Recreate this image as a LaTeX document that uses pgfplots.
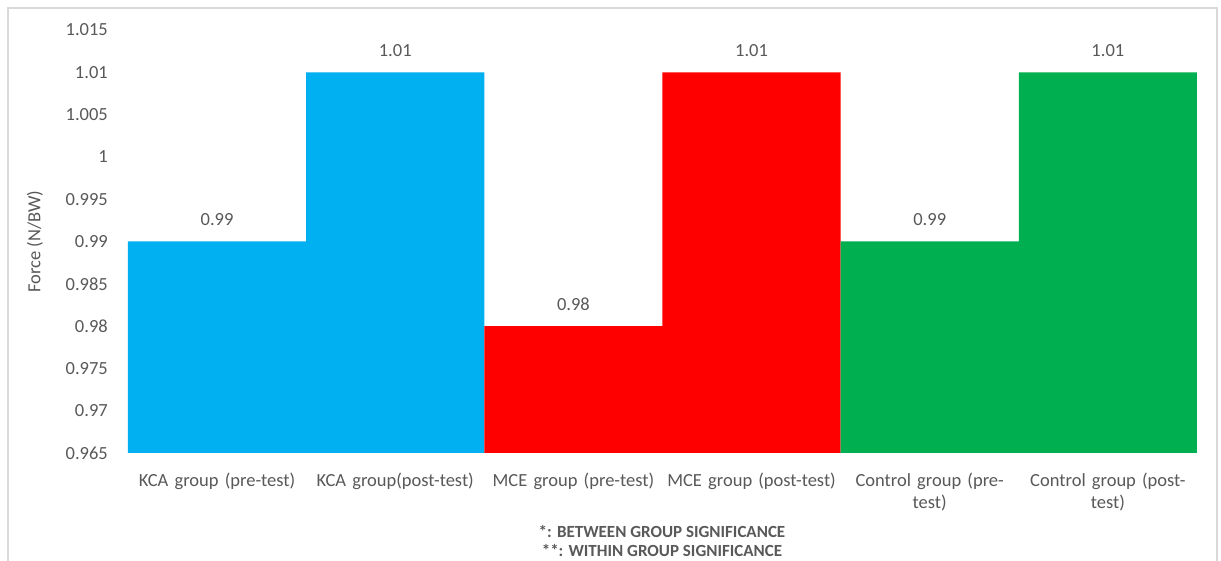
\documentclass[border=0pt]{standalone}
\usepackage{pgfplots}
\pgfplotsset{compat=1.18}
\usepackage{fontspec}
\setmainfont{Carlito}
\definecolor{kcablue}{RGB}{0,176,240}
\definecolor{mcered}{RGB}{255,0,0}
\definecolor{ctrlgreen}{RGB}{0,176,80}
\definecolor{labelgray}{RGB}{89,89,89}
\definecolor{framegray}{RGB}{217,217,217}
\newcommand\lblfont{\fontsize{18.5}{22}\selectfont}
\begin{document}
\begin{tikzpicture}
\useasboundingbox (-128pt,-108pt) rectangle (1093pt,453pt);
\fill[white] (-128pt,-108pt) rectangle (1093pt,453pt);
\draw[framegray, line width=1.5pt] (-120pt,-140pt) rectangle (1089pt,445pt);
\begin{axis}[
  name=ax,
  scale only axis,
  width=1069pt, height=423pt,
  at={(0pt,0pt)}, anchor=south west,
  ybar, bar width=1,
  xmin=-0.5, xmax=5.5,
  ymin=0.965, ymax=1.015,
  ytick={0.965,0.97,...,1.0151},
  xtick={0,...,5},
  xticklabels={KCA group (pre-test), KCA group(post-test), MCE group (pre-test), MCE group (post-test), {Control group (pre-\\test)}, {Control group (post-\\test)}},
  /pgf/number format/assume math mode=true,
  yticklabel={\pgfmathprintnumber[precision=3]{\tick}},
  axis x line*=bottom, axis y line*=left,
  y axis line style={draw=none},
  x axis line style={draw=framegray, line width=1pt, -},
  major tick length=0pt,
  tick style={draw=none},
  tick label style={font=\lblfont, text=labelgray},
  yticklabel style={inner sep=0pt, xshift=-20pt},
  xticklabel style={inner sep=0pt, yshift=-20pt, text width=178pt, align=center},
  ylabel={Force (N/BW)},
  ylabel style={font=\lblfont, text=labelgray, at={(axis description cs:-0.087,0.5)}, anchor=center},
  nodes near coords,
  nodes near coords style={font=\lblfont, text=labelgray, yshift=12pt, /pgf/number format/precision=2},
]
\addplot[draw=none, fill=kcablue, bar shift=0pt] coordinates {(0,0.99) (1,1.01)};
\addplot[draw=none, fill=mcered, bar shift=0pt] coordinates {(2,0.98) (3,1.01)};
\addplot[draw=none, fill=ctrlgreen, bar shift=0pt] coordinates {(4,0.99) (5,1.01)};
\end{axis}
\node[font=\bfseries\fontsize{17}{20}\selectfont, text=labelgray, anchor=base] at (534pt,-85pt) {*: BETWEEN GROUP SIGNIFICANCE};
\node[font=\bfseries\fontsize{17}{20}\selectfont, text=labelgray, anchor=base] at (534pt,-104pt) {**: WITHIN GROUP SIGNIFICANCE};
\end{tikzpicture}
\end{document}
